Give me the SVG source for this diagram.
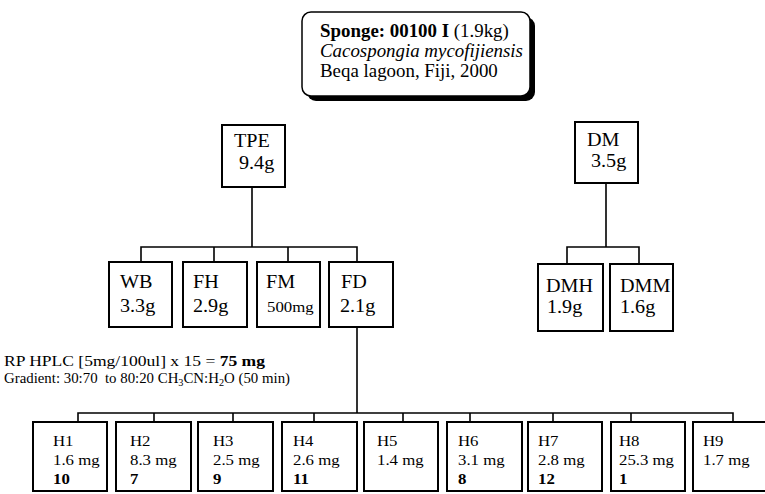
<svg xmlns="http://www.w3.org/2000/svg" width="765" height="494" viewBox="0 0 765 494">
<style>
text{font-family:"Liberation Serif","Times New Roman",serif;fill:#000}
.big{font-size:18px}
.sm{font-size:15px}
.b{font-weight:bold}
.box{fill:#fff;stroke:#000;stroke-width:2}
.ln{fill:none;stroke:#000;stroke-width:1.6}
</style>
<rect width="765" height="494" fill="#fff"/>
<g id="sponge">
<rect x="307" y="17" width="228" height="84" rx="9" fill="#000"/>
<rect x="302" y="12" width="228" height="84" rx="9" fill="#fff" stroke="#000" stroke-width="1.5"/>
<text class="big" transform="translate(320,37) scale(1.05,1)"><tspan class="b">Sponge: 00100 I </tspan>(1.9kg)</text>
<text class="big" font-style="italic" transform="translate(320,57) scale(1.05,1)">Cacospongia mycofijiensis</text>
<text class="big" transform="translate(320,77) scale(1.05,1)">Beqa lagoon, Fiji, 2000</text>
</g>
<g id="connectors">
<path class="ln" d="M252 187V247M141 262V247H357V262M214 247V262M288 247V262"/>
<path class="ln" d="M606 183V247M567 264V247H639V264"/>
<path class="ln" d="M357 327V413M78 422V413H733V422M154 413V422M233 413V422M314 413V422M403 413V422M470 413V422M553 413V422M631 413V422"/>
</g>
<g id="TPE">
<rect class="box" x="222" y="125" width="63" height="62"/>
<text class="big" transform="translate(234,147) scale(1.12,1)">TPE</text>
<text class="big" transform="translate(239,169) scale(1.12,1)">9.4g</text>
</g>
<g id="DM">
<rect class="box" x="575" y="122" width="63" height="61"/>
<text class="big" transform="translate(587,146) scale(1.12,1)">DM</text>
<text class="big" transform="translate(591,167) scale(1.12,1)">3.5g</text>
</g>
<g id="WB">
<rect class="box" x="109" y="262" width="63" height="65"/>
<text class="big" transform="translate(120,288) scale(1.12,1)">WB</text>
<text class="big" transform="translate(120,312) scale(1.12,1)">3.3g</text>
</g>
<g id="FH">
<rect class="box" x="183" y="262" width="64" height="65"/>
<text class="big" transform="translate(193,288) scale(1.12,1)">FH</text>
<text class="big" transform="translate(193,312) scale(1.12,1)">2.9g</text>
</g>
<g id="FM">
<rect class="box" x="257" y="262" width="63" height="65"/>
<text class="big" transform="translate(266,288) scale(1.12,1)">FM</text>
<text class="sm" transform="translate(267,312) scale(1.12,1)">500mg</text>
</g>
<g id="FD">
<rect class="box" x="329" y="262" width="64" height="65"/>
<text class="big" transform="translate(341,288) scale(1.12,1)">FD</text>
<text class="big" transform="translate(340,312) scale(1.12,1)">2.1g</text>
</g>
<g id="DMH">
<rect class="box" x="538" y="264" width="65" height="67"/>
<text class="big" transform="translate(546,292) scale(1.12,1)">DMH</text>
<text class="big" transform="translate(547,313) scale(1.12,1)">1.9g</text>
</g>
<g id="DMM">
<rect class="box" x="610" y="264" width="63" height="67"/>
<text class="big" transform="translate(620,292) scale(1.12,1)">DMM</text>
<text class="big" transform="translate(620,313) scale(1.12,1)">1.6g</text>
</g>
<g id="hplc">
<text font-size="14.5" x="4" y="366" textLength="261" lengthAdjust="spacingAndGlyphs">RP HPLC [5mg/100ul] x 15 = <tspan class="b">75 mg</tspan></text>
<text font-size="14.5" x="4" y="383" textLength="286" lengthAdjust="spacingAndGlyphs">Gradient: 30:70&#160; to 80:20 CH<tspan font-size="10" dy="3">3</tspan><tspan dy="-3">CN:H</tspan><tspan font-size="10" dy="3">2</tspan><tspan dy="-3">O (50 min)</tspan></text>
</g>
<g id="H1"><rect class="box" x="33" y="422" width="74" height="69"/>
<text class="sm" transform="translate(53,446) scale(1.12,1)">H1</text>
<text class="sm" transform="translate(53,465) scale(1.12,1)">1.6 mg</text>
<text class="sm b" transform="translate(53,484) scale(1.12,1)">10</text></g>
<g id="H2"><rect class="box" x="116" y="422" width="75" height="69"/>
<text class="sm" transform="translate(130,446) scale(1.12,1)">H2</text>
<text class="sm" transform="translate(130,465) scale(1.12,1)">8.3 mg</text>
<text class="sm b" transform="translate(130,484) scale(1.12,1)">7</text></g>
<g id="H3"><rect class="box" x="198" y="422" width="75" height="69"/>
<text class="sm" transform="translate(213,446) scale(1.12,1)">H3</text>
<text class="sm" transform="translate(213,465) scale(1.12,1)">2.5 mg</text>
<text class="sm b" transform="translate(213,484) scale(1.12,1)">9</text></g>
<g id="H4"><rect class="box" x="282" y="422" width="75" height="69"/>
<text class="sm" transform="translate(293,446) scale(1.12,1)">H4</text>
<text class="sm" transform="translate(293,465) scale(1.12,1)">2.6 mg</text>
<text class="sm b" transform="translate(293,484) scale(1.12,1)">11</text></g>
<g id="H5"><rect class="box" x="364" y="422" width="74" height="69"/>
<text class="sm" transform="translate(377,446) scale(1.12,1)">H5</text>
<text class="sm" transform="translate(377,465) scale(1.12,1)">1.4 mg</text></g>
<g id="H6"><rect class="box" x="447" y="422" width="75" height="69"/>
<text class="sm" transform="translate(458,446) scale(1.12,1)">H6</text>
<text class="sm" transform="translate(458,465) scale(1.12,1)">3.1 mg</text>
<text class="sm b" transform="translate(458,484) scale(1.12,1)">8</text></g>
<g id="H7"><rect class="box" x="528" y="422" width="74" height="69"/>
<text class="sm" transform="translate(538,446) scale(1.12,1)">H7</text>
<text class="sm" transform="translate(538,465) scale(1.12,1)">2.8 mg</text>
<text class="sm b" transform="translate(538,484) scale(1.12,1)">12</text></g>
<g id="H8"><rect class="box" x="611" y="422" width="74" height="69"/>
<text class="sm" transform="translate(619,446) scale(1.12,1)">H8</text>
<text class="sm" transform="translate(619,465) scale(1.12,1)">25.3 mg</text>
<text class="sm b" transform="translate(619,484) scale(1.12,1)">1</text></g>
<g id="H9"><rect class="box" x="693" y="422" width="90" height="69"/>
<text class="sm" transform="translate(703,446) scale(1.12,1)">H9</text>
<text class="sm" transform="translate(703,465) scale(1.12,1)">1.7 mg</text></g>
</svg>
